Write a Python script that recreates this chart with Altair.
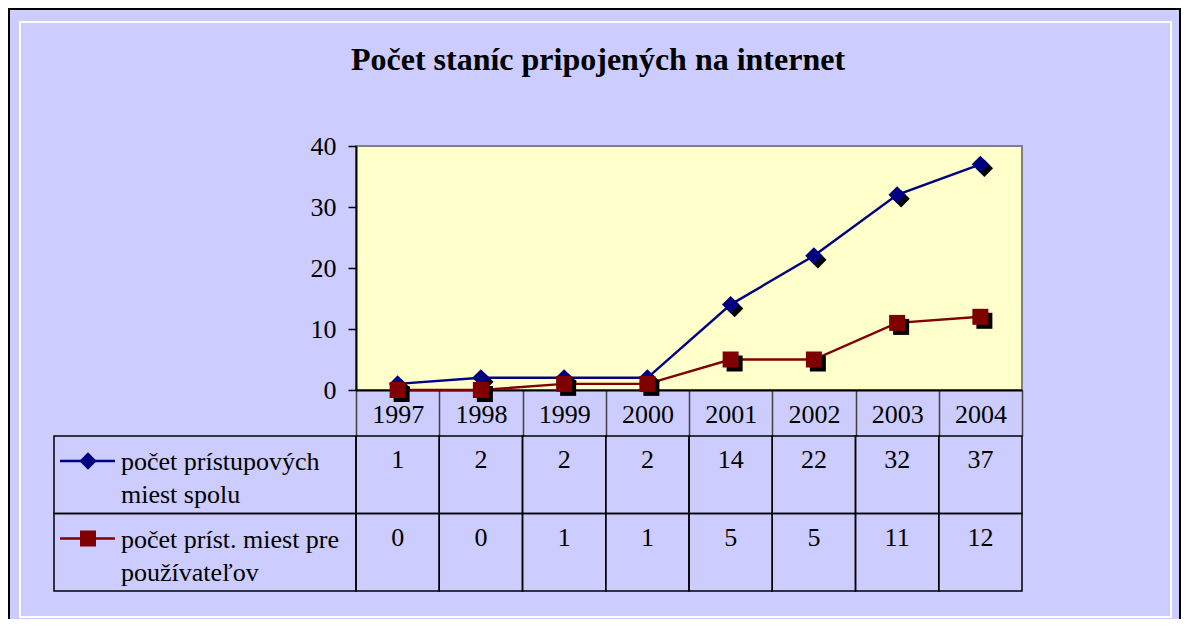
import altair as alt
import pandas as pd

# ---- data ----
years = ["1997", "1998", "1999", "2000", "2001", "2002", "2003", "2004"]
total_points = [1, 2, 2, 2, 14, 22, 32, 37]
user_points = [0, 0, 1, 1, 5, 5, 11, 12]
series_names = ["počet prístupových miest spolu", "počet príst. miest pre používateľov"]
legend_labels = ["počet prístupových\nmiest spolu", "počet príst. miest pre\npoužívateľov"]
series_colors = ["#000080", "#800000"]
series_shapes = ["diamond", "square"]
y_ticks = [0, 10, 20, 30, 40]
title_text = "Počet staníc pripojených na internet"

rows = []
for name, vals in zip(series_names, [total_points, user_points]):
    for yr, v in zip(years, vals):
        rows.append({"year": yr, "value": v, "series": name, "label": str(v)})
df = pd.DataFrame(rows)
leg = pd.DataFrame({"series": series_names, "label": legend_labels, "col": ["leg", "leg"]})
one = pd.DataFrame({"k": [0]})

FONT = "Liberation Serif"
W, H = 666, 244          # plot area
HEADER = 46              # year header row (axis ticks)
ROWS_H = 155             # two data rows
LEG_W = 302              # legend column width


def xs():
    return alt.Scale(type="band", domain=years, paddingInner=0, paddingOuter=0)


def ys():
    return alt.Scale(domain=[0, 40], nice=False, zero=True)


def rs():
    return alt.Scale(type="band", domain=series_names, range=[H + HEADER, H + HEADER + ROWS_H],
                     paddingInner=0, paddingOuter=0)


def ls():
    return alt.Scale(type="band", domain=["leg"], range=[-LEG_W, 0], paddingInner=0, paddingOuter=0)


color_scale = alt.Scale(domain=series_names, range=series_colors)
shape_scale = alt.Scale(domain=series_names, range=series_shapes)
size_scale = alt.Scale(domain=series_names, range=[300, 256])

base = alt.Chart(df)

x_axis = alt.Axis(title=None, labelAngle=0, tickBand="extent", tickSize=HEADER, tickColor="#404040",
                  tickWidth=1.5, domainColor="black", domainWidth=2, labelFont=FONT, labelFontSize=26,
                  labelColor="black", labelPadding=-35, labelBaseline="top")
y_axis = alt.Axis(title=None, values=y_ticks, tickSize=8, tickColor="black", tickWidth=1.5,
                  domainColor="black", domainWidth=2, labelFont=FONT, labelFontSize=26,
                  labelColor="black", labelPadding=12, grid=False)

line = base.mark_line(strokeWidth=2.4).encode(
    x=alt.X("year:O", scale=xs(), bandPosition=0.5, axis=x_axis),
    y=alt.Y("value:Q", scale=ys(), axis=y_axis),
    color=alt.Color("series:N", scale=color_scale, legend=None),
)

shadow = base.mark_point(filled=True, opacity=1, color="black", xOffset=4, yOffset=4).encode(
    x=alt.X("year:O", scale=xs(), bandPosition=0.5, axis=None),
    y=alt.Y("value:Q", scale=ys(), axis=None),
    shape=alt.Shape("series:N", scale=shape_scale, legend=None),
    size=alt.Size("series:N", scale=size_scale, legend=None),
)

markers = base.mark_point(filled=True, opacity=1).encode(
    x=alt.X("year:O", scale=xs(), bandPosition=0.5, axis=None),
    y=alt.Y("value:Q", scale=ys(), axis=None),
    shape=alt.Shape("series:N", scale=shape_scale, legend=None),
    size=alt.Size("series:N", scale=size_scale, legend=None),
    color=alt.Color("series:N", scale=color_scale, legend=None),
)

cells = base.mark_rect(fill="transparent", stroke="black", strokeWidth=1.5).encode(
    x=alt.X("year:O", scale=xs(), axis=None),
    y=alt.Y("series:N", scale=rs(), axis=None),
)

cell_text = base.mark_text(font=FONT, fontSize=26, color="black", baseline="alphabetic", yOffset=32).encode(
    x=alt.X("year:O", scale=xs(), bandPosition=0.5, axis=None),
    y=alt.Y("series:N", scale=rs(), bandPosition=0, axis=None),
    text="label:N",
)

lb = alt.Chart(leg)
leg_cells = lb.mark_rect(fill="transparent", stroke="black", strokeWidth=1.5).encode(
    x=alt.X("col:N", scale=ls(), axis=None),
    y=alt.Y("series:N", scale=rs(), axis=None),
)
# tick is centred on the band; offset moves it to the left part of the legend cell
leg_line = lb.mark_tick(orient="horizontal", size=55, thickness=2.4, opacity=1,
                        xOffset=-117.5, yOffset=25).encode(
    x=alt.X("col:N", scale=ls(), axis=None),
    y=alt.Y("series:N", scale=rs(), bandPosition=0, axis=None),
    color=alt.Color("series:N", scale=color_scale, legend=None),
)
leg_mark = lb.mark_point(filled=True, opacity=1, xOffset=34, yOffset=25).encode(
    x=alt.X("col:N", scale=ls(), bandPosition=0, axis=None),
    y=alt.Y("series:N", scale=rs(), bandPosition=0, axis=None),
    shape=alt.Shape("series:N", scale=shape_scale, legend=None),
    size=alt.Size("series:N", scale=size_scale, legend=None),
    color=alt.Color("series:N", scale=color_scale, legend=None),
)
leg_text = lb.mark_text(align="left", baseline="alphabetic", font=FONT, fontSize=26, lineBreak="\n",
                        lineHeight=33, xOffset=67, yOffset=34, color="black").encode(
    x=alt.X("col:N", scale=ls(), bandPosition=0, axis=None),
    y=alt.Y("series:N", scale=rs(), bandPosition=0, axis=None),
    text="label:N",
)

# decorative chart-area frame (Excel style)
outer = alt.Chart(one).mark_rect(fill="transparent", stroke="black", strokeWidth=2).encode(
    x=alt.value(-347), x2=alt.value(824), y=alt.value(-137), y2=alt.value(500))
inner = alt.Chart(one).mark_rect(fill="transparent", stroke="white", strokeWidth=2).encode(
    x=alt.value(-336), x2=alt.value(815), y=alt.value(-124), y2=alt.value(471))

chart = alt.layer(
    outer, inner, cells, leg_cells, line, shadow, markers, cell_text, leg_line, leg_mark, leg_text
).resolve_scale(
    x="independent", y="independent"
).properties(
    width=W, height=H,
    autosize=alt.AutoSizeParams(type="none"),
    padding={"left": 348, "top": 138, "right": 159, "bottom": 229},
    title=alt.Title(title_text, font=FONT, fontSize=32, fontWeight="bold", color="black",
                    anchor="middle", frame="group", offset=0, dx=-91, dy=94, baseline="alphabetic"),
).configure(
    background="#CCCCFF"
).configure_view(
    fill="#FFFFCC", stroke="#808080", strokeWidth=2
)

chart.save("out.html", embed_options={"renderer": "svg", "actions": False})
